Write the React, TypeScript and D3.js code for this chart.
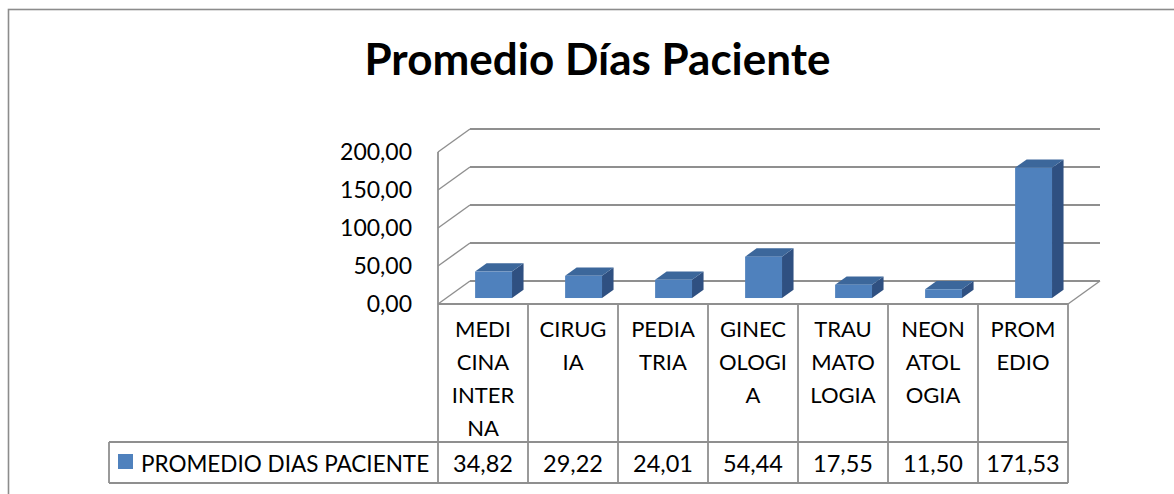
import React from "react";
import * as d3 from "d3";

const categories = [
  "MEDICINA INTERNA",
  "CIRUGIA",
  "PEDIATRIA",
  "GINECOLOGIA",
  "TRAUMATOLOGIA",
  "NEONATOLOGIA",
  "PROMEDIO",
];
// header labels as they wrap inside the data table
const categoryLines = [
  ["MEDI", "CINA", "INTER", "NA"],
  ["CIRUG", "IA"],
  ["PEDIA", "TRIA"],
  ["GINEC", "OLOGI", "A"],
  ["TRAU", "MATO", "LOGIA"],
  ["NEON", "ATOL", "OGIA"],
  ["PROM", "EDIO"],
];
const values = [34.82, 29.22, 24.01, 54.44, 17.55, 11.5, 171.53];
const yTicks = [0, 50, 100, 150, 200];
const seriesName = "PROMEDIO DIAS PACIENTE";
const title = "Promedio Días Paciente";

const W = 1174;
const H = 494;
const FONT = "Lato, 'Open Sans', sans-serif";
const GRID = "#8f8f8f";
const BAR_FRONT = "#4F81BD";
const BAR_TOP = "#3C679B";
const BAR_SIDE = "#2F5081";

// depth vector of the 3D box
const DX = 32;
const DY = -23;
const f0 = 0.26; // bar front depth
const f1 = 0.62; // bar back depth

const esLocale = d3.formatLocale({
  decimal: ",",
  thousands: ".",
  grouping: [3],
  currency: ["", ""],
});
const fmt = esLocale.format(".2f");

const App: React.FC = () => {
  const x = d3
    .scaleBand<string>()
    .domain(categories)
    .range([438, 1068])
    .padding(0);
  const y = d3.scaleLinear().domain([0, 200]).range([304, 152]);
  const bw = x.bandwidth();
  const [x0, x1] = x.range();
  const y0 = y(0);

  const tableTop = y0;
  const rowLine = 442;
  const tableBottom = 483;
  const legendLeft = 109;

  return (
    <div style={{ position: "absolute", left: 0, top: 0, width: W, height: H }}>
      <svg width={W} height={H} style={{ display: "block", background: "#fff" }}>
        {/* outer chart border */}
        <rect x={8.5} y={9.5} width={W + 50} height={H + 50} fill="none" stroke="#8c8c8c" strokeWidth={1.6} />

        <text
          x={597.5}
          y={75}
          textAnchor="middle"
          fontFamily={FONT}
          fontWeight="bold"
          fontSize={44}
          fill="#000"
        >
          {title}
        </text>

        {/* back wall gridlines + left wall diagonals */}
        {yTicks.map((t) => (
          <g key={t}>
            <line x1={x0 + DX} x2={x1 + DX} y1={y(t) + DY} y2={y(t) + DY} stroke={GRID} strokeWidth={1.8} />
            <line x1={x0} x2={x0 + DX} y1={y(t)} y2={y(t) + DY} stroke={GRID} strokeWidth={1.4} />
            <text
              x={412}
              y={y(t)}
              dy="0.35em"
              textAnchor="end"
              fontFamily={FONT}
              fontSize={23}
              fill="#000"
            >
              {fmt(t)}
            </text>
          </g>
        ))}
        {/* left wall front edge */}
        <line x1={x0} x2={x0} y1={y(200)} y2={y0} stroke={GRID} strokeWidth={1.8} />
        {/* floor right diagonal */}
        <line x1={x1} x2={x1 + DX} y1={y0} y2={y0 + DY} stroke={GRID} strokeWidth={1.4} />

        {/* bars */}
        {categories.map((c, i) => {
          const v = values[i];
          const left = (x(c) as number) + bw * 0.32 + DX * f0;
          const right = left + bw * 0.41;
          const top = y(v) + DY * f0;
          const bottom = y0 + DY * f0;
          const ddx = DX * (f1 - f0);
          const ddy = DY * (f1 - f0);
          return (
            <g key={c}>
              <polygon
                points={`${right},${top} ${right + ddx},${top + ddy} ${right + ddx},${bottom + ddy} ${right},${bottom}`}
                fill={BAR_SIDE}
              />
              <polygon
                points={`${left},${top} ${left + ddx},${top + ddy} ${right + ddx},${top + ddy} ${right},${top}`}
                fill={BAR_TOP}
              />
              <rect x={left} y={top} width={right - left} height={bottom - top} fill={BAR_FRONT} />
            </g>
          );
        })}

        {/* data table */}
        <line x1={x0} x2={x1} y1={tableTop} y2={tableTop} stroke={GRID} strokeWidth={1.8} />
        <line x1={legendLeft} x2={x1} y1={rowLine} y2={rowLine} stroke={GRID} strokeWidth={1.8} />
        <line x1={legendLeft} x2={x1} y1={tableBottom} y2={tableBottom} stroke={GRID} strokeWidth={1.8} />
        <line x1={legendLeft} x2={legendLeft} y1={rowLine} y2={tableBottom} stroke={GRID} strokeWidth={1.8} />
        {[...categories.map((c) => x(c) as number), x1].map((bx, i) => (
          <line key={i} x1={bx} x2={bx} y1={tableTop} y2={tableBottom} stroke={GRID} strokeWidth={1.8} />
        ))}

        {categories.map((c, i) => {
          const cx = (x(c) as number) + bw / 2;
          return (
            <g key={c} fontFamily={FONT} fontSize={22} fill="#000" textAnchor="middle">
              {categoryLines[i].map((ln, j) => (
                <text key={j} x={cx} y={336.5 + j * 33}>
                  {ln}
                </text>
              ))}
              <text x={cx} y={471.5} fontSize={23.5}>
                {fmt(values[i])}
              </text>
            </g>
          );
        })}

        {/* legend cell */}
        <rect x={118} y={454} width={15} height={15} fill={BAR_FRONT} />
        <text x={141} y={471.5} fontFamily={FONT} fontSize={22.5} fill="#000">
          {seriesName}
        </text>
      </svg>
    </div>
  );
};

export default App;
